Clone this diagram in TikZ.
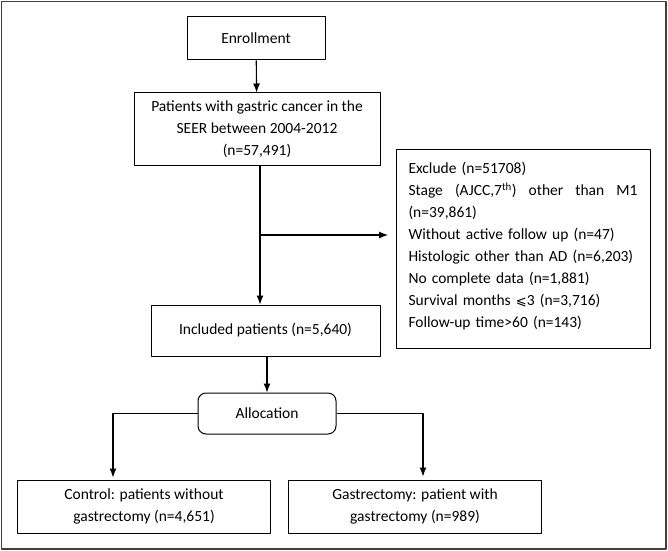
\documentclass[tikz,border=0pt]{standalone}
\usepackage{fontspec}
\setmainfont{Carlito}
\usepackage{tikz}
\usetikzlibrary{arrows.meta}

\begin{document}
\begin{tikzpicture}[>={Latex[length=9bp,width=7bp]},line join=bevel,x=1bp,y=-1bp,
  box/.style={draw,inner sep=0pt,align=center,font=\fontsize{15.5bp}{22bp}\selectfont},
  link/.style={->,line width=1.1bp}]
  \pgfsetlinewidth{1bp}
\useasboundingbox (0,0) rectangle (668,551);
  % Frame
  \draw [black!75,line width=1.3bp] (1.5,1.5) rectangle (666,549);
%%
  % Node: enroll
  \node [box,minimum width=138bp,minimum height=43bp] (enroll) at (256,38.5) {Enrollment};
  % Node: seer
  \node [box,minimum width=246bp,minimum height=73bp] (seer) at (257,129.5) {Patients with gastric cancer in the\\SEER between 2004-2012\\(n=57,491)};
  % Node: exclude
  \node [draw,minimum width=254bp,minimum height=199bp,anchor=north west,inner sep=0pt] (exclude) at (396,149) {};
  \node [font=\fontsize{15.5bp}{22bp}\selectfont,text width=229bp,align=left,anchor=north west,inner sep=0pt] (excltext) at (408,162)
    {Exclude (n=51708)\\
     Stage\hfill(AJCC,7\textsuperscript{th})\hfill other\hfill than\hfill M1\\
     (n=39,861)\\
     Without active follow up (n=47)\\
     Histologic other than AD (n=6,203)\\
     No complete data (n=1,881)\\
     Survival months {\fontspec{DejaVu Sans}\fontsize{13bp}{22bp}\selectfont ⩽}3 (n=3,716)\\
     Follow-up time>60 (n=143)};
  % Node: included
  \node [box,minimum width=229bp,minimum height=51bp] (included) at (265.5,330.5) {Included patients (n=5,640)};
  % Node: alloc
  \node [box,rounded corners=8bp,minimum width=138bp,minimum height=41bp] (alloc) at (267,413.5) {Allocation};
  % Node: control
  \node [box,minimum width=253bp,minimum height=53bp] (control) at (144,506.5) {Control: patients without\\gastrectomy (n=4,651)};
  % Node: gastr
  \node [box,minimum width=253bp,minimum height=53bp] (gastr) at (415,506.5) {Gastrectomy: patient with\\gastrectomy (n=989)};
%%
  \coordinate (split) at (260,235);
  \coordinate (leftdrop) at (113,0);
  \coordinate (rightdrop) at (423,0);
  % Edge: enroll -> seer
  \draw [link] (enroll) -- (seer);
  % Edge: seer -> included
  \draw [link] (seer.south -| split) -- (included.north -| split);
  % Edge: seer -> exclude
  \draw [link] (split) -- ([xshift=-8bp]split -| exclude.west);
  % Edge: included -> alloc
  \draw [link] (included.south -| alloc) -- (alloc);
  % Edge: alloc -> control
  \draw [link] (alloc.west) -| ([yshift=2bp]control.north -| leftdrop);
  % Edge: alloc -> gastr
  \draw [link] (alloc.east) -| ([yshift=3bp]gastr.north -| rightdrop);
%
\end{tikzpicture}
\end{document}
